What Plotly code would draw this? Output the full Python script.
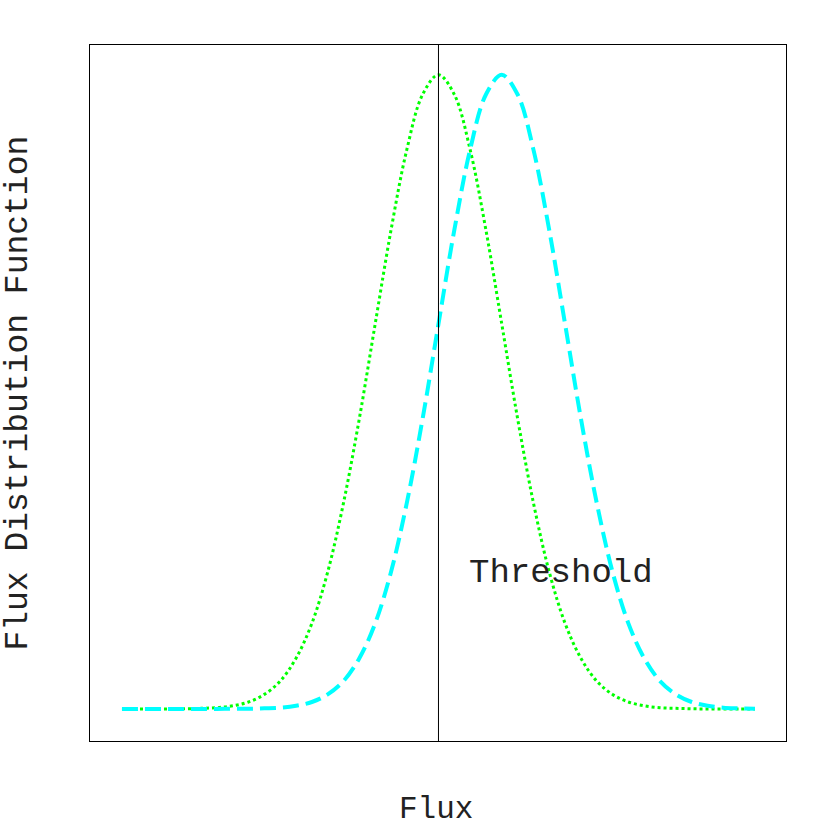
import plotly.graph_objects as go

# flux grid (arbitrary units, threshold at 5)
flux = [0.0, 0.25, 0.5, 0.75, 1.0, 1.25, 1.5, 1.75, 2.0, 2.25, 2.5, 2.75,
        3.0, 3.25, 3.5, 3.75, 4.0, 4.25, 4.5, 4.75, 5.0, 5.25, 5.5, 5.75,
        6.0, 6.25, 6.5, 6.75, 7.0, 7.25, 7.5, 7.75, 8.0, 8.25, 8.5, 8.75,
        9.0, 9.25, 9.5, 9.75, 10.0]

# green dotted curve (peak at threshold)
fdf_green = [0.0, 0.0, 0.0, 0.0, 0.0003, 0.001, 0.002, 0.005, 0.011, 0.023,
             0.044, 0.080, 0.135, 0.216, 0.325, 0.458, 0.607, 0.755, 0.882,
             0.969, 1.0, 0.969, 0.882, 0.755, 0.607, 0.458, 0.325, 0.216,
             0.135, 0.080, 0.044, 0.023, 0.011, 0.005, 0.002, 0.001, 0.0003,
             0.0, 0.0, 0.0, 0.0]

# cyan dashed curve (shifted to higher flux)
fdf_cyan = [0.0, 0.0, 0.0, 0.0, 0.0, 0.0, 0.0, 0.0003, 0.0003, 0.001, 0.002,
            0.005, 0.011, 0.023, 0.044, 0.080, 0.135, 0.216, 0.325, 0.458,
            0.607, 0.755, 0.882, 0.969, 1.0, 0.969, 0.882, 0.755, 0.607,
            0.458, 0.325, 0.216, 0.135, 0.080, 0.044, 0.023, 0.011, 0.005,
            0.002, 0.001, 0.0003]

threshold = 5.0

font_name = 'Liberation Mono'

fig = go.Figure()
fig.add_trace(go.Scatter(x=flux, y=fdf_green, mode='lines', line_shape='spline',
                         line=dict(color='#00ff00', width=3, dash='3px,3px'),
                         showlegend=False))
fig.add_trace(go.Scatter(x=flux, y=fdf_cyan, mode='lines', line_shape='spline',
                         line=dict(color='#00ffff', width=4, dash='16px,7px'),
                         showlegend=False))

fig.add_shape(type='line', xref='x', yref='paper', x0=threshold, x1=threshold,
              y0=0, y1=1, line=dict(color='black', width=1))

fig.add_annotation(text='Threshold', xref='x', yref='y', x=threshold + 0.45, y=0.214,
                   xanchor='left', yanchor='middle', showarrow=False,
                   font=dict(family=font_name, size=34, color='#222222'))
fig.add_annotation(text='Flux', xref='paper', yref='paper', x=0.497, y=-0.126,
                   xanchor='center', yanchor='bottom', showarrow=False,
                   font=dict(family=font_name, size=31, color='#222222'))
fig.add_annotation(text='Flux Distribution Function', xref='paper', yref='paper',
                   x=-0.104, y=0.5, textangle=-90, xanchor='center', yanchor='middle',
                   showarrow=False, font=dict(family=font_name, size=33, color='#222222'))

fig.update_layout(
    width=830, height=830,
    margin=dict(l=90, r=44, t=45, b=89),
    paper_bgcolor='white', plot_bgcolor='white',
    xaxis=dict(range=[-0.505, 10.49], showticklabels=False, ticks='', showgrid=False,
               zeroline=False, showline=True, mirror=True, linecolor='black', linewidth=1),
    yaxis=dict(range=[-0.0505, 1.047], showticklabels=False, ticks='', showgrid=False,
               zeroline=False, showline=True, mirror=True, linecolor='black', linewidth=1),
)

# drop the default body margin so the figure sits at the window corner
fig.write_html('out.html', config={'displayModeBar': False},
               post_script="document.body.style.margin='0px';")
